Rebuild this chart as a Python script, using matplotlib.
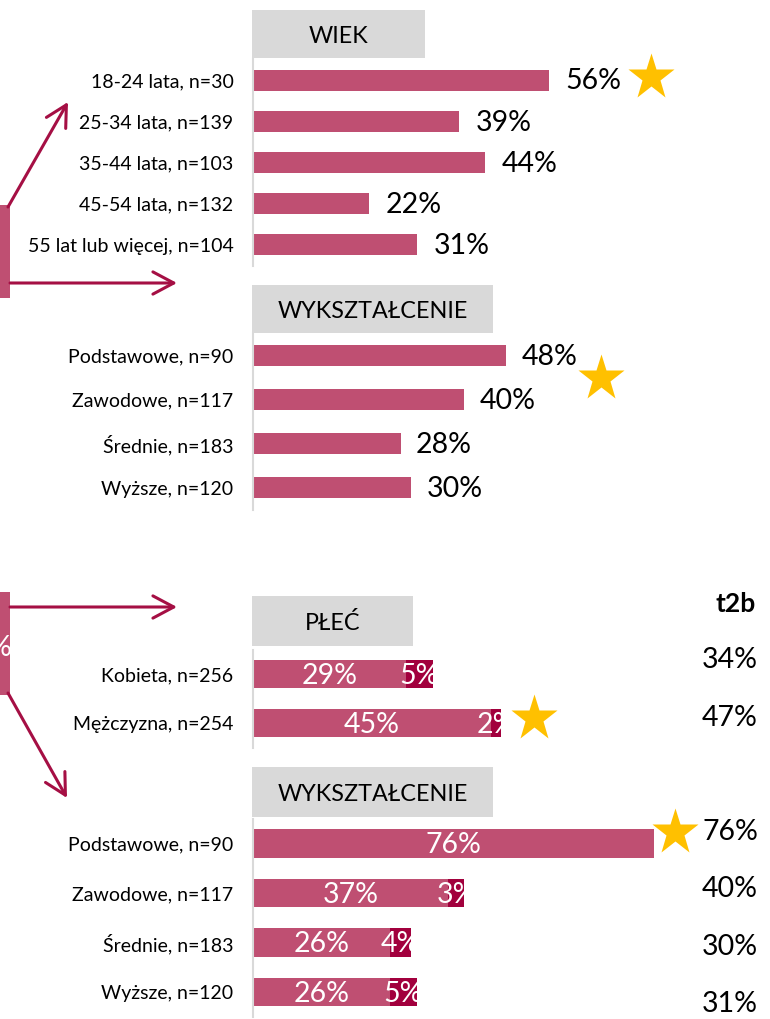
import matplotlib.pyplot as plt
from matplotlib.patches import Rectangle, FancyArrowPatch
from matplotlib.transforms import ScaledTranslation

plt.rcParams['font.family'] = ['Lato', 'DejaVu Sans']

# dane
wiek_kat = ["18-24 lata, n=30", "25-34 lata, n=139", "35-44 lata, n=103",
            "45-54 lata, n=132", "55 lat lub więcej, n=104"]
wiek_val = [56, 39, 44, 22, 31]

wyk_kat = ["Podstawowe, n=90", "Zawodowe, n=117", "Średnie, n=183", "Wyższe, n=120"]
wyk_val = [48, 40, 28, 30]

plec_kat = ["Kobieta, n=256", "Mężczyzna, n=254"]
plec_t1 = [29, 45]
plec_t2 = [5, 2]

wyk2_t1 = [76, 37, 26, 26]
wyk2_t2 = [0, 3, 4, 5]

# kolory
PINK = '#BF4F72'
DARK = '#A2003D'
GRAY = '#D9D9D9'
STAR = '#FFC000'
ARROW = '#A50F44'

W, H = 770, 1019
PX = 5.28      # pikseli na 1%
XMAX = 97
X0 = 253
FS = 20.5      # etykiety wartosci

fig = plt.figure(figsize=(W / 100, H / 100), dpi=100)


def px_axes(x0, y0, x1, y1):
    return fig.add_axes([x0 / W, 1 - y1 / H, (x1 - x0) / W, (y1 - y0) / H])


def panel(top, bottom, cats):
    ax = px_axes(X0, top, X0 + PX * XMAX, bottom)
    n = len(cats)
    ax.set_xlim(0, XMAX)
    ax.set_ylim(n - 0.5, -0.5)
    for s in ['top', 'right', 'bottom']:
        ax.spines[s].set_visible(False)
    ax.spines['left'].set_color(GRAY)
    ax.spines['left'].set_linewidth(1.5)
    ax.set_xticks([])
    ax.set_yticks(range(n), cats, fontsize=14)
    ax.tick_params(length=0, pad=14)
    ax.patch.set_alpha(0)
    return ax


def header(x0, y0, x1, y1, txt):
    hx = px_axes(x0, y0, x1, y1)
    hx.set_facecolor(GRAY)
    for s in hx.spines.values():
        s.set_visible(False)
    hx.set_xticks([])
    hx.set_yticks([])
    hx.text(0.5, 0.45, txt, ha='center', va='center', fontsize=16.8, transform=hx.transAxes)


def star(ax, x, y, dx, dy):
    tr = ax.transData + ScaledTranslation(dx / 100, -dy / 100, fig.dpi_scale_trans)
    ax.plot(x, y, marker='*', ms=35, color=STAR, mec='none', clip_on=False, transform=tr)


def arrow(p0, p1):
    a = FancyArrowPatch((p0[0] / W, 1 - p0[1] / H), (p1[0] / W, 1 - p1[1] / H),
                        transform=fig.transFigure, arrowstyle='->,head_length=0.75,head_width=0.4',
                        mutation_scale=20, color=ARROW, lw=2.2, shrinkA=0, shrinkB=0)
    fig.add_artist(a)


# WIEK
ax1 = panel(59.4, 265.6, wiek_kat)
ax1.barh(range(len(wiek_val)), wiek_val, height=0.51, color=PINK)
for i, v in enumerate(wiek_val):
    ax1.annotate(f"{v}%", (v, i), xytext=(12, -1), textcoords='offset points',
                 va='center', fontsize=FS)
star(ax1, wiek_val[0], 0, 102, -3)
header(252, 10, 425, 58, "WIEK")

# WYKSZTAŁCENIE (góra)
ax2 = panel(333, 510, wyk_kat)
ax2.barh(range(len(wyk_val)), wyk_val, height=0.47, color=PINK)
for i, v in enumerate(wyk_val):
    ax2.annotate(f"{v}%", (v, i), xytext=(11, -1), textcoords='offset points',
                 va='center', fontsize=FS)
star(ax2, wyk_val[0], 0, 95, 23)
header(252, 285, 493, 333, "WYKSZTAŁCENIE")


def stacked(ax, t1, t2, h):
    y = range(len(t1))
    ax.barh(y, t1, height=h, color=PINK)
    b2 = ax.barh(y, t2, left=t1, height=h, color=DARK)
    for i in y:
        ax.text(t1[i] / 2, i + 0.04, f"{t1[i]}%", ha='center', va='center',
                color='white', fontsize=FS)
        if t2[i] > 0:
            t = ax.text(t1[i] + t2[i] / 2, i + 0.04, f"{t2[i]}%", ha='center', va='center',
                        color='white', fontsize=FS)
            t.set_clip_path(b2[i])


# PŁEĆ
ax3 = panel(649.5, 747.5, plec_kat)
stacked(ax3, plec_t1, plec_t2, 0.57)
star(ax3, plec_t1[1] + plec_t2[1], 1, 33, -5)
header(252, 596, 413, 646, "PŁEĆ")

# WYKSZTAŁCENIE (dół)
ax4 = panel(818.75, 1016.75, wyk_kat)
stacked(ax4, wyk2_t1, wyk2_t2, 0.585)
star(ax4, wyk2_t1[0] + wyk2_t2[0], 0, 21, -12)
header(252, 767, 493, 817, "WYKSZTAŁCENIE")


# kolumna t2b
def t2b_col(top, bottom, t1, t2, title=False):
    tx = px_axes(690, top, 758, bottom)
    n = len(t1)
    tx.set_ylim(n - 0.5, -0.5)
    tx.axis('off')
    for i in range(n):
        tx.text(1, i, f"{t1[i] + t2[i]}%", ha='right', va='center', fontsize=FS,
                transform=tx.get_yaxis_transform())
    if title:
        tx.text(0.96, -0.96, "t2b", ha='right', va='center', fontsize=19, fontweight='bold',
                transform=tx.get_yaxis_transform(), clip_on=False)


t2b_col(631, 747, plec_t1, plec_t2, title=True)
t2b_col(803.4, 1032.6, wyk2_t1, wyk2_t2)

# lewe pola i strzałki
fig.add_artist(Rectangle((-5 / W, 1 - 298 / H), 15 / W, 93 / H, transform=fig.transFigure,
                         color=PINK, lw=0))
fig.add_artist(Rectangle((-5 / W, 1 - 695 / H), 15 / W, 103 / H, transform=fig.transFigure,
                         color=PINK, lw=0))
fig.text(12 / W, 1 - 648 / H, "%", ha='right', va='center', color='white', fontsize=FS)

arrow((8, 207), (68, 102))
arrow((10, 283), (177, 283))
arrow((10, 607), (177, 607))
arrow((8, 693), (67, 798))

fig.savefig("out.png", dpi=100)
